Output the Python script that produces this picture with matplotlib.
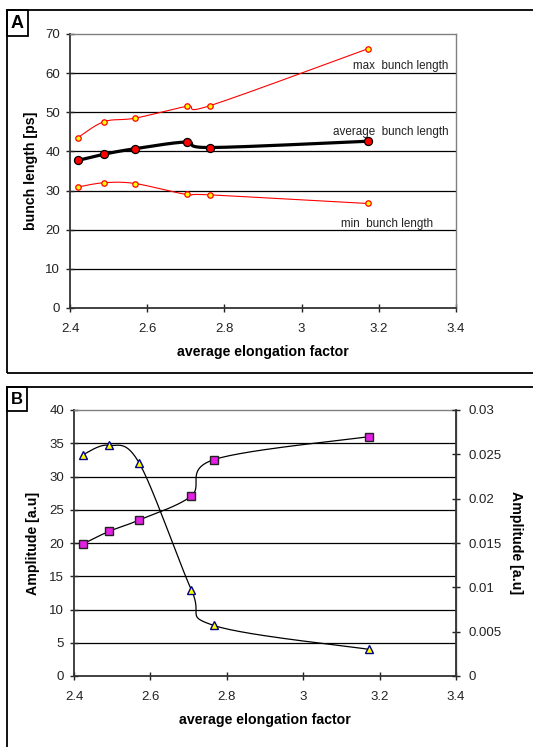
import numpy as np
import matplotlib
matplotlib.use("Agg")
import matplotlib.pyplot as plt
from matplotlib.patches import Rectangle

plt.rcParams['font.family'] = ['Liberation Sans', 'DejaVu Sans']

# ---- data ----
x_a = [2.42, 2.488, 2.569, 2.702, 2.763, 3.171]
max_bl = [43.5, 47.6, 48.5, 51.5, 51.7, 66.2]
avg_bl = [37.7, 39.3, 40.7, 42.4, 41.0, 42.6]
min_bl = [30.9, 32.0, 31.8, 29.0, 28.9, 26.7]

x_b = [2.424, 2.491, 2.571, 2.707, 2.766, 3.173]
amp_tri = [33.3, 34.7, 32.0, 13.0, 7.6, 4.0]          # left axis
amp_sq = [0.0149, 0.0163, 0.0176, 0.0203, 0.0244, 0.0270]  # right axis

x_ticks = [2.4, 2.6, 2.8, 3.0, 3.2, 3.4]
x_ticklabels = ['2.4', '2.6', '2.8', '3', '3.2', '3.4']
ya_ticks = [0, 10, 20, 30, 40, 50, 60, 70]
yb_ticks = [0, 5, 10, 15, 20, 25, 30, 35, 40]
yb2_ticks = [0, 0.005, 0.01, 0.015, 0.02, 0.025, 0.03]
yb2_labels = ['0', '0.005', '0.01', '0.015', '0.02', '0.025', '0.03']


def smooth(xs, ys, n=30):
    """Excel-like smoothed line (cubic Bezier with neighbour-based control points)."""
    xs = np.asarray(xs, float)
    ys = np.asarray(ys, float)
    P = np.column_stack([xs, ys])
    m = len(P)
    out = []
    for i in range(m - 1):
        p0 = P[i - 1] if i > 0 else P[i]
        p1 = P[i]
        p2 = P[i + 1]
        p3 = P[i + 2] if i + 2 < m else P[i + 1]
        c1 = p1 + (p2 - p0) / 6.0
        c2 = p2 - (p3 - p1) / 6.0
        t = np.linspace(0, 1, n)[:, None]
        seg = ((1 - t) ** 3) * p1 + 3 * ((1 - t) ** 2) * t * c1 + 3 * (1 - t) * t ** 2 * c2 + t ** 3 * p2
        out.append(seg if i == 0 else seg[1:])
    out = np.vstack(out)
    return out[:, 0], out[:, 1]


fig = plt.figure(figsize=(5.33, 7.47), dpi=100)
W, H = 533.0, 747.0

# panel frames
fig.patches.append(Rectangle((7 / W, 1 - 373 / H), 1.2, (373 - 10) / H, transform=fig.transFigure,
                             fill=False, ec='black', lw=1.3))
fig.patches.append(Rectangle((7 / W, -0.05), 1.2, 1 - 387 / H + 0.05, transform=fig.transFigure,
                             fill=False, ec='black', lw=1.3))
# label boxes
fig.patches.append(Rectangle((7 / W, 1 - 36 / H), 21 / W, 26 / H, transform=fig.transFigure,
                             fill=False, ec='black', lw=1.3))
fig.patches.append(Rectangle((7 / W, 1 - 411 / H), 20 / W, 24 / H, transform=fig.transFigure,
                             fill=False, ec='black', lw=1.3))
fig.text(17.5 / W, 1 - 23 / H, 'A', ha='center', va='center', fontsize=13, fontweight='bold')
fig.text(17 / W, 1 - 399 / H, 'B', ha='center', va='center', fontsize=12, fontweight='bold')

tick_fs = 9.5
lab_fs = 10.2


def style(ax):
    ax.set_xlim(2.4, 3.4)
    ax.set_xticks(x_ticks)
    ax.set_xticklabels(x_ticklabels)
    for s in ['top', 'right']:
        ax.spines[s].set_color('#808080')
        ax.spines[s].set_linewidth(1.0)
    for s in ['left', 'bottom']:
        ax.spines[s].set_color('#333333')
        ax.spines[s].set_linewidth(1.3)
    ax.tick_params(direction='inout', length=6, width=1, labelsize=tick_fs, colors='#222222', pad=4)
    ax.tick_params(axis='x', pad=8)
    ax.set_xlabel('average elongation factor', fontsize=lab_fs, fontweight='bold', labelpad=7)


# ---- panel A ----
axA = fig.add_axes([70 / W, 1 - 308 / H, (456 - 70) / W, (308 - 34) / H])
style(axA)
axA.set_ylim(0, 70)
axA.set_yticks(ya_ticks)
for v in ya_ticks[1:-1]:
    axA.axhline(v, color='black', lw=0.9, zorder=1)
axA.set_ylabel('bunch length [ps]', fontsize=lab_fs, fontweight='bold', labelpad=5)

for ys in (max_bl, min_bl):
    sx, sy = smooth(x_a, ys)
    axA.plot(sx, sy, color='red', lw=0.8, zorder=3)
    axA.plot(x_a, ys, ls='none', marker='o', ms=3.9, mfc='yellow', mec='red', mew=0.9, zorder=4)
sx, sy = smooth(x_a, avg_bl)
axA.plot(sx, sy, color='black', lw=2.3, zorder=3)
axA.plot(x_a, avg_bl, ls='none', marker='o', ms=5.8, mfc='red', mec='black', mew=0.9, zorder=4)

axA.text(3.38, 61.8, 'max  bunch length', ha='right', va='center', fontsize=8.4, color='#222222')
axA.text(3.38, 45.0, 'average  bunch length', ha='right', va='center', fontsize=8.4, color='#222222')
axA.text(3.34, 21.5, 'min  bunch length', ha='right', va='center', fontsize=8.4, color='#222222')

# ---- panel B ----
axB = fig.add_axes([74 / W, 1 - 676 / H, (456 - 74) / W, (676 - 410) / H])
style(axB)
axB.set_ylim(0, 40)
axB.set_yticks(yb_ticks)
for v in yb_ticks[1:-1]:
    axB.axhline(v, color='black', lw=0.9, zorder=1)
axB.set_ylabel('Amplitude [a.u]', fontsize=lab_fs, fontweight='bold', labelpad=7)

axB2 = axB.twinx()
axB2.set_ylim(0, 0.03)
axB2.set_yticks(yb2_ticks)
axB2.set_yticklabels(yb2_labels)
axB2.spines['right'].set_color('#333333')
axB2.spines['right'].set_linewidth(1.3)
axB2.spines['top'].set_visible(False)
axB2.spines['left'].set_visible(False)
axB2.spines['bottom'].set_visible(False)
axB2.tick_params(direction='inout', length=6, width=1, labelsize=tick_fs, colors='#222222', pad=6)
axB2.set_ylabel('Amplitude [a.u]', fontsize=lab_fs, fontweight='bold', rotation=-90, labelpad=15)

sx, sy = smooth(x_b, amp_tri)
axB.plot(sx, sy, color='black', lw=0.9, zorder=3)
axB.plot(x_b, amp_tri, ls='none', marker='^', ms=6.3, mfc='yellow', mec='#000080', mew=1.0, zorder=4)
sx, sy = smooth(x_b, amp_sq)
axB2.plot(sx, sy, color='black', lw=0.9, zorder=3)
axB2.plot(x_b, amp_sq, ls='none', marker='s', ms=5.5, mfc='#E61EE6', mec='#222222', mew=1.0, zorder=4)

fig.savefig('out.png', dpi=100)
